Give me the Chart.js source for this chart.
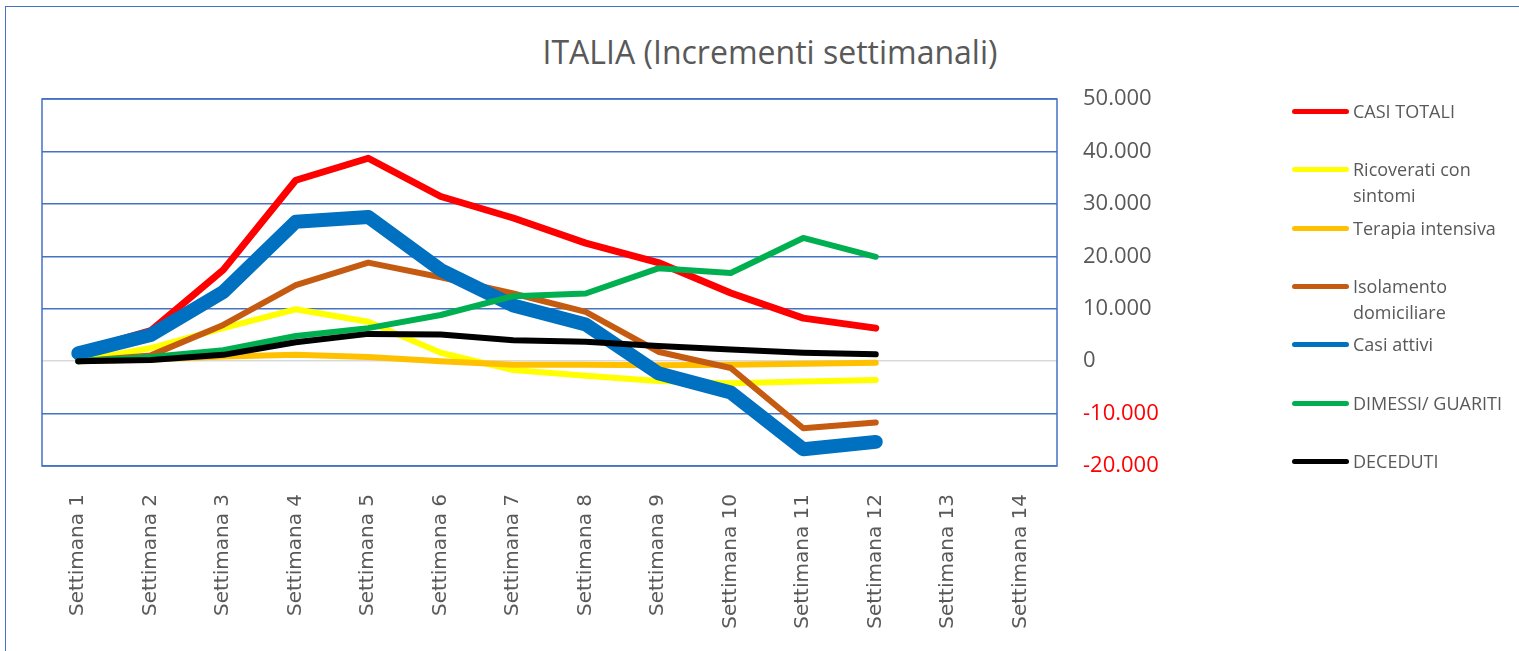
<!DOCTYPE html>
<html>
<head>
<meta charset="utf-8">
<script src="https://cdn.jsdelivr.net/npm/chart.js@4.4.1/dist/chart.umd.min.js"></script>
<style>
  body { margin: 0; background: #fff; }
  #frame { position: absolute; left: 5px; top: 6px; width: 1530px; height: 660px; border: 1.5px solid #4472C4; }
  #titolo { position: absolute; left: 0; width: 1540px; top: 31px; text-align: center;
    font: 400 32px "Open Sans", sans-serif; color: #595959; line-height: 42px; }
  canvas { position: absolute; left: 0; top: 0; }
  .leg { position: absolute; left: 1292px; }
  .leg .ln { position: absolute; left: 0; width: 57px; height: 5px; border-radius: 3px; }
  .leg .tx { position: absolute; left: 61px; width: 160px; font: 18px "Open Sans", sans-serif;
    color: #595959; line-height: 26px; }
</style>
</head>
<body>
<div id="frame"></div>
<div id="titolo">ITALIA (Incrementi settimanali)</div>
<canvas id="myChart" width="1519" height="651"></canvas>
<div id="legenda"></div>
<script>
// settimane
let settimane = ['Settimana 1','Settimana 2','Settimana 3','Settimana 4','Settimana 5','Settimana 6','Settimana 7',
  'Settimana 8','Settimana 9','Settimana 10','Settimana 11','Settimana 12','Settimana 13','Settimana 14']

// incrementi settimanali per voce
let casiTotali  = [1800, 5800, 17400, 34500, 38700, 31400, 27300, 22500, 18800, 13000, 8200, 6300, null, null]
let ricoverati  = [0, 2500, 6300, 9900, 7500, 1600, -1700, -2800, -3800, -4200, -3900, -3600, null, null]
let terapia     = [0, 300, 900, 1200, 800, 0, -700, -700, -800, -700, -500, -300, null, null]
let isolamento  = [0, 1100, 6900, 14500, 18800, 16000, 12900, 9400, 1800, -1300, -12800, -11700, null, null]
let casiAttivi  = [1500, 5000, 13200, 26600, 27500, 17400, 10600, 7000, -2300, -6000, -16800, -15400, null, null]
let dimessi     = [0, 800, 2100, 4800, 6300, 8800, 12400, 12900, 17700, 16800, 23500, 19900, null, null]
let deceduti    = [0, 200, 1200, 3600, 5200, 5100, 4000, 3700, 2900, 2200, 1600, 1300, null, null]

let nomi   = ['CASI TOTALI','Ricoverati con sintomi','Terapia intensiva','Isolamento domiciliare','Casi attivi','DIMESSI/ GUARITI','DECEDUTI']
let serie  = [casiTotali, ricoverati, terapia, isolamento, casiAttivi, dimessi, deceduti]
let colori = ['#FF0000','#FFFF00','#FFC000','#C55A11','#0070C0','#00B050','#000000']
let spessori = [7, 6, 6, 6, 14, 6, 6]

// asse y
let yMin = -20000, yMax = 50000, yPasso = 10000

function formatta(v){
  let s = Math.abs(v).toString().replace(/\B(?=(\d{3})+(?!\d))/g, '.')
  return (v < 0 ? '-' : '') + s
}

// legenda a destra
let legCentri = [111, 169, 228, 286, 344, 403, 461]
let leg = document.getElementById('legenda')
for(i=0;i<nomi.length;i++){
  let d = document.createElement('div')
  d.className = 'leg'
  d.style.top = (legCentri[i] - 13) + 'px'
  d.innerHTML = '<div class="ln" style="top:11px;background:' + colori[i] + '"></div><div class="tx">' + nomi[i] + '</div>'
  leg.appendChild(d)
}

// bordo area grafico
const bordo = {
  id: 'bordo',
  beforeDatasetsDraw(chart){
    const a = chart.chartArea, c = chart.ctx
    c.save()
    c.strokeStyle = '#4472C4'
    c.lineWidth = 1.5
    c.strokeRect(a.left, a.top, a.right - a.left, a.bottom - a.top)
    c.restore()
  }
}

let ds = []
for(i=0;i<serie.length;i++){
  ds.push({
    label: nomi[i],
    data: serie[i],
    borderColor: colori[i],
    backgroundColor: colori[i],
    borderWidth: spessori[i],
    borderCapStyle: 'round',
    borderJoinStyle: 'round',
    pointRadius: 0,
    tension: 0,
    order: serie.length - i
  })
}

const ctx = document.getElementById('myChart')
const myChart = new Chart(ctx, {
  type: 'line',
  data: { labels: settimane, datasets: ds },
  plugins: [bordo],
  options: {
    responsive: false,
    animation: false,
    layout: { padding: { left: 42, right: 332, top: 99, bottom: 15 } },
    plugins: { legend: { display: false }, tooltip: { enabled: false } },
    scales: {
      x: {
        offset: true,
        grid: { display: false },
        border: { display: false },
        ticks: {
          autoSkip: false, minRotation: 90, maxRotation: 90, padding: 20,
          color: '#595959', font: { family: 'DejaVu Sans', size: 20 }
        },
        afterFit(scale){ scale.height = 170 }
      },
      y: {
        position: 'right',
        min: yMin, max: yMax,
        border: { display: false },
        grid: {
          drawTicks: false,
          lineWidth: 1.5,
          color: (c) => c.tick && c.tick.value === 0 ? '#D9D9D9' : '#4472C4'
        },
        ticks: {
          stepSize: yPasso, padding: 26,
          font: { family: 'Open Sans', size: 22 },
          color: (c) => c.tick && c.tick.value < 0 ? '#FF0000' : '#595959',
          callback: (v) => formatta(v)
        },
        afterFit(scale){ scale.width = 130 }
      }
    }
  }
})
</script>
</body>
</html>
